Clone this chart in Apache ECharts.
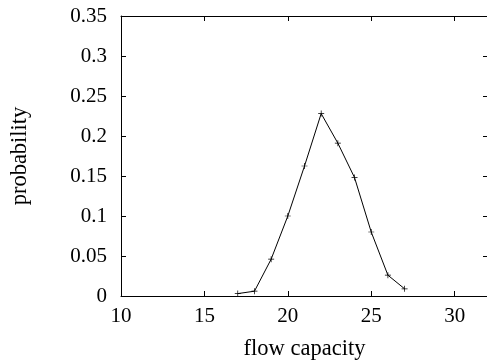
<!DOCTYPE html>
<html>
<head>
<meta charset="utf-8">
<script src="https://cdn.jsdelivr.net/npm/echarts@6/dist/echarts.min.js"></script>
<style>
html,body{margin:0;padding:0;background:#fff;}
#chart{width:487px;height:362px;}
</style>
</head>
<body>
<div id="chart"></div>
<script>
var flowCapacity = [17, 18, 19, 20, 21, 22, 23, 24, 25, 26, 27];
var probability = [0.003, 0.006, 0.046, 0.100, 0.1625, 0.228, 0.191, 0.148, 0.080, 0.026, 0.009];
var xTitle = 'flow capacity';
var yTitle = 'probability';

var FONT = "'Liberation Serif','Times New Roman',serif";
var FS = 21;
var FT = 22.5;
var data = flowCapacity.map(function (x, i) { return [x, probability[i]]; });
var plus = 'path://M-0.12,-1H0.12V-0.12H1V0.12H0.12V1H-0.12V0.12H-1V-0.12H-0.12Z';

var chart = echarts.init(document.getElementById('chart'), null, {renderer: 'canvas'});
var axisLine = {show: true, onZero: false, lineStyle: {color: '#000', width: 1}};
var tick = {show: true, inside: true, length: 5, lineStyle: {color: '#000', width: 1}};
chart.setOption({
  animation: false,
  backgroundColor: '#fff',
  grid: {left: 121, right: -1, top: 16, bottom: 66, containLabel: false, outerBoundsMode: 'none'},
  xAxis: [{
    type: 'value', min: 10, max: 32, interval: 5, position: 'bottom',
    name: xTitle, nameLocation: 'middle', nameGap: 42,
    nameTextStyle: {fontFamily: FONT, fontSize: FT, color: '#000'},
    axisLine: axisLine, axisTick: tick, splitLine: {show: false},
    axisLabel: {fontFamily: FONT, fontSize: FS, color: '#000', margin: 10, showMaxLabel: false}
  }, {
    type: 'value', min: 10, max: 32, interval: 5, position: 'top',
    axisLine: axisLine, axisTick: tick, splitLine: {show: false},
    axisLabel: {show: false}
  }],
  yAxis: [{
    type: 'value', min: 0, max: 0.35, interval: 0.05, position: 'left',
    name: yTitle, nameLocation: 'middle', nameGap: 89,
    nameTextStyle: {fontFamily: FONT, fontSize: FT, color: '#000'},
    axisLine: axisLine, axisTick: tick, splitLine: {show: false},
    axisLabel: {fontFamily: FONT, fontSize: FS, color: '#000', margin: 14}
  }, {
    type: 'value', min: 0, max: 0.35, interval: 0.05, position: 'right',
    axisLine: axisLine, axisTick: tick, splitLine: {show: false},
    axisLabel: {show: false}
  }],
  series: [{
    type: 'line', xAxisIndex: 0, yAxisIndex: 0, data: data,
    symbol: plus, symbolSize: 6, showAllSymbol: true,
    lineStyle: {color: '#000', width: 1},
    itemStyle: {color: '#000', borderWidth: 0}
  }]
});
</script>
</body>
</html>
